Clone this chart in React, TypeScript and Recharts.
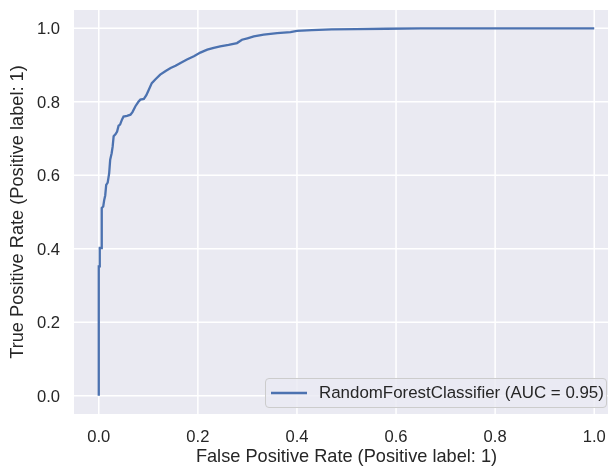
import React from 'react';
import { LineChart, Line, XAxis, YAxis, CartesianGrid, Legend } from 'recharts';

const fprValues = [
  0, 0, 0.002, 0.002, 0.006, 0.006, 0.009, 0.011, 0.013, 0.015, 0.018, 0.021, 0.023, 0.026, 0.028,
  0.030, 0.034, 0.037, 0.040, 0.043, 0.047, 0.050, 0.057, 0.064, 0.068, 0.074, 0.080, 0.084, 0.091,
  0.096, 0.101, 0.107, 0.115, 0.124, 0.135, 0.145, 0.155, 0.165, 0.178, 0.192, 0.205, 0.219, 0.232,
  0.245, 0.262, 0.279, 0.289, 0.300, 0.313, 0.333, 0.360, 0.387, 0.400, 0.430, 0.470, 0.520, 0.580,
  0.650, 1.0,
];
const tprValues = [
  0, 0.352, 0.352, 0.402, 0.402, 0.511, 0.515, 0.533, 0.545, 0.574, 0.580, 0.606, 0.642, 0.660, 0.678,
  0.706, 0.712, 0.719, 0.735, 0.738, 0.752, 0.760, 0.762, 0.765, 0.772, 0.788, 0.800, 0.806, 0.808,
  0.818, 0.833, 0.851, 0.862, 0.874, 0.884, 0.892, 0.898, 0.906, 0.915, 0.924, 0.934, 0.942, 0.947,
  0.951, 0.955, 0.960, 0.969, 0.973, 0.978, 0.983, 0.987, 0.990, 0.993, 0.995, 0.997, 0.998, 0.999,
  1.0, 1.0,
];
const tickValues = [0, 0.2, 0.4, 0.6, 0.8, 1.0];
const seriesName = 'RandomForestClassifier (AUC = 0.95)';
const xLabel = 'False Positive Rate (Positive label: 1)';
const yLabel = 'True Positive Rate (Positive label: 1)';

const rows = fprValues.map((f, i) => ({ fpr: f, tpr: tprValues[i] }));

const FONT = "'Liberation Sans', Arial, sans-serif";
const TEXT = '#262626';
const LINE = '#4C72B0';
const TICK_SIZE = 16.6;
const LEGEND_SIZE = 16.9;
const LABEL_SIZE = 18.2;

const fmt = (v: number) => v.toFixed(1);

const LegendBox = (props: any) => {
  const item = (props.payload || [])[0];
  return (
    <div
      style={{
        boxSizing: 'border-box',
        width: 342,
        height: 30,
        border: '1px solid #CCCCCC',
        borderRadius: 4,
        background: 'rgba(234,234,242,0.8)',
        display: 'flex',
        alignItems: 'center',
        fontFamily: FONT,
        fontSize: LEGEND_SIZE,
        color: TEXT,
        whiteSpace: 'nowrap',
      }}
    >
      <svg width={48} height={20} style={{ display: 'block', flex: 'none' }}>
        <line x1={5} x2={41} y1={10} y2={10} stroke={LINE} strokeWidth={2.3} />
      </svg>
      <span style={{ marginLeft: 5 }}>{item ? item.value : seriesName}</span>
    </div>
  );
};

const YLabel = (props: any) => {
  const vb = props.viewBox || {};
  const cy = (vb.y || 0) + (vb.height || 0) / 2;
  const x = 15;
  return (
    <text
      x={x}
      y={cy}
      transform={`rotate(-90, ${x}, ${cy})`}
      textAnchor="middle"
      fill={TEXT}
      fontSize={LABEL_SIZE}
      fontFamily={FONT}
    >
      {yLabel}
    </text>
  );
};

const XLabel = (props: any) => {
  const vb = props.viewBox || {};
  const cx = (vb.x || 0) + (vb.width || 0) / 2;
  const y = (vb.y || 0) + 48;
  return (
    <text x={cx} y={y} textAnchor="middle" fill={TEXT} fontSize={LABEL_SIZE} fontFamily={FONT}>
      {xLabel}
    </text>
  );
};

export default function App() {
  return (
    <div style={{ position: 'fixed', left: 8, top: 8, width: 600, height: 458, overflow: 'hidden' }}>
      <LineChart
        width={611}
        height={458}
        data={rows}
        margin={{ top: 2, right: 0, bottom: 0, left: 0 }}
        style={{ fontFamily: FONT }}
      >
        <CartesianGrid fill="#EAEAF2" stroke="#FFFFFF" strokeWidth={1.5} horizontalValues={tickValues} verticalValues={tickValues} />
        <XAxis
          dataKey="fpr"
          type="number"
          domain={[-0.05, 1.05]}
          ticks={tickValues}
          interval={0}
          tickFormatter={fmt}
          axisLine={false}
          tickLine={false}
          tickSize={6}
          tickMargin={10}
          height={52}
          tick={{ fill: TEXT, fontSize: TICK_SIZE, fontFamily: FONT }}
          label={<XLabel />}
        />
        <YAxis
          dataKey="tpr"
          type="number"
          domain={[-0.05, 1.05]}
          ticks={tickValues}
          interval={0}
          tickFormatter={fmt}
          axisLine={false}
          tickLine={false}
          tickSize={6}
          tickMargin={8}
          width={66}
          tick={{ fill: TEXT, fontSize: TICK_SIZE, fontFamily: FONT }}
          label={<YLabel />}
        />
        <Legend
          layout="horizontal"
          verticalAlign="middle"
          align="center"
          content={<LegendBox />}
          wrapperStyle={{ left: 257, top: 370, width: 342, height: 30 }}
        />
        <Line
          type="linear"
          dataKey="tpr"
          name={seriesName}
          stroke={LINE}
          strokeWidth={2.3}
          dot={false}
          activeDot={false}
          isAnimationActive={false}
        />
      </LineChart>
    </div>
  );
}
